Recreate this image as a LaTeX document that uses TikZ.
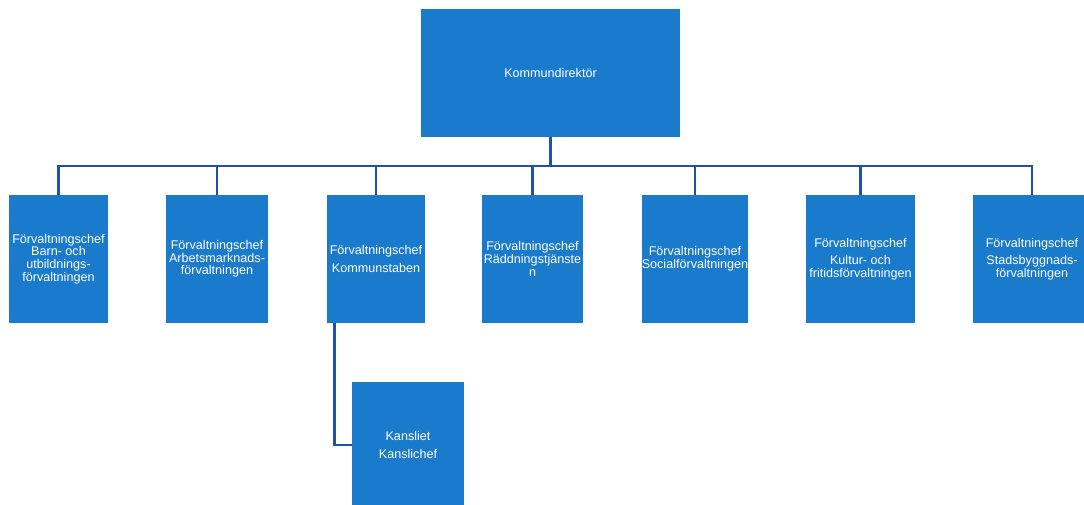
\documentclass[tikz,border=0pt]{standalone}
\usepackage{fontspec}
\setmainfont{Liberation Sans}
\definecolor{boxblue}{RGB}{26,122,204}
\definecolor{lineblue}{RGB}{30,80,172}
\begin{document}
\begin{tikzpicture}[x=1pt,y=-1pt,
  orgbox/.style={rectangle, fill=boxblue, draw=none, text=white, align=center,
    inner sep=0pt, minimum height=128pt,
    font=\fontsize{12.6pt}{12.6pt}\selectfont},
  conn/.style={draw=lineblue, line width=2.8pt}]
\useasboundingbox (0,0) rectangle (1084,504);
\node[orgbox, minimum width=259pt] (top) at (550.5,73) {Kommundirektör};
\node[orgbox, minimum width=99pt] (c1) at (58.5,259) {Förvaltningschef\\Barn- och\\utbildnings-\\förvaltningen};
\node[orgbox, minimum width=102pt] (c2) at (217,259) {Förvaltningschef\\Arbetsmarknads-\\förvaltningen};
\node[orgbox, minimum width=98pt] (c3) at (376,259) {Förvaltningschef\\[5pt]Kommunstaben};
\node[orgbox, minimum width=101pt] (c4) at (532.5,259) {Förvaltningschef\\Räddningstjänste\\n};
\node[orgbox, minimum width=106pt] (c5) at (695,259) {Förvaltningschef\\Socialförvaltningen};
\node[orgbox, minimum width=109pt] (c6) at (860.5,259) {Förvaltningschef\\[5pt]Kultur- och\\fritidsförvaltningen};
\node[orgbox, minimum width=118pt] (c7) at (1032,259) {Förvaltningschef\\[5pt]Stadsbyggnads-\\förvaltningen};
\node[orgbox, minimum width=112pt, minimum height=126pt] (kan) at (408,445) {Kansliet\\[6pt]Kanslichef};
\coordinate (bus) at (0,166);
\draw[conn] (top.south) -- (top.south |- bus);
\draw[conn] ([xshift=-1.4pt]c1.north |- bus) -- ([xshift=1.4pt]c7.north |- bus);
\foreach \c in {c1,c2,c3,c4,c5,c6,c7}{
  \draw[conn] (\c.north |- bus) -- (\c.north);
}
\draw[conn] ([xshift=8pt]c3.south west) |- (kan.west);
\end{tikzpicture}
\end{document}
